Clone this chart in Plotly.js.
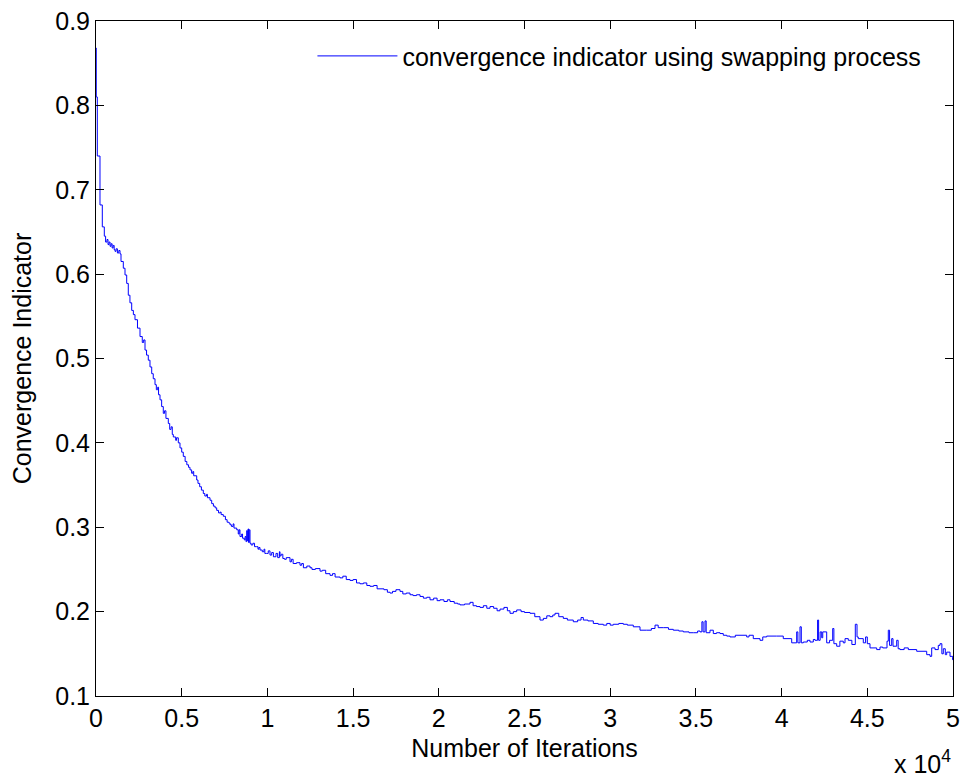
<!DOCTYPE html>
<html>
<head>
<meta charset="utf-8">
<script src="https://cdn.plot.ly/plotly-3.0.1.min.js"></script>
<style>html,body{margin:0;padding:0;background:#fff;}#chart{width:964px;height:780px;}</style>
</head>
<body>
<div id="chart"></div>
<script>
// Iteration numbers
const iterations = [
0,15,76,233,368,484,560,640,700,760,820,880,940,1000,1060,1110,1170,1250,1330,1400,
1459,1593,1692,1791,1884,1980,2083,2180,2275,2420,2567,2700,2780,2859,2950,3051,3150,3250,3340,3442,
3520,3600,3650,3734,3830,3926,4000,4080,4218,4300,4380,4450,4510,4650,4700,4802,4900,5000,5093,5200,
5300,5400,5484,5580,5650,5700,5875,5950,6050,6150,6260,6350,6450,6500,6651,6750,6850,6950,7042,7150,
7250,7300,7427,7550,7650,7750,7818,7900,8000,8050,8209,8300,8350,8400,8500,8550,8650,8700,8750,8792,
8830,8870,8900,8940,8985,9050,9150,9250,9376,9450,9500,9568,9700,9800,9850,9959,10050,10152,10250,10350,
10500,10600,10700,10735,10800,10900,11000,11100,11319,11400,11500,11700,11902,12000,12100,12300,12485,12600,12800,13069,
13200,13400,13652,13800,13950,14236,14400,14600,14819,15000,15200,15403,15600,15800,15986,16200,16400,16569,16800,17000,
17153,17300,17500,17736,17900,18100,18320,18500,18700,18903,19100,19300,19487,19700,19900,20070,20300,20500,20653,20900,
21100,21237,21500,21820,22000,22200,22404,22600,22800,22987,23200,23400,23571,23800,24000,24154,24350,24545,24800,25000,
25321,25600,25904,26100,26300,26488,26650,26779,27000,27264,27500,27847,28100,28300,28431,28700,29014,29300,29598,29800,
30000,30181,30500,30764,31000,31348,31739,32129,32400,32614,32800,33098,33400,33681,34000,34265,34600,34848,35100,35239,
35350,35420,35531,35600,35823,36015,36200,36406,36598,36800,36989,37300,37573,37963,38100,38348,38739,38900,39130,39714,
40098,40589,40880,40950,41073,41150,41266,41500,41657,41850,41948,42100,42160,42250,42339,42400,42532,42631,42800,42981,
43050,43214,43400,43599,43700,43891,44100,44300,44400,44474,44766,44900,45000,45157,45548,45741,45900,46150,46225,46300,
46423,46500,46715,46800,46908,47150,47392,47882,48466,48658,48757,48950,49142,49241,49350,49434,49550,49632,49825,49983,
50000
];
// Convergence indicator values
const indicator = [
0.868,0.81,0.74,0.682,0.656,0.645,0.638,0.641,0.635,0.638,0.633,0.636,0.631,0.634,0.629,0.627,0.630,0.625,0.628,0.624,
0.615,0.607,0.599,0.589,0.575,0.566,0.557,0.552,0.546,0.536,0.526,0.519,0.522,0.510,0.504,0.498,0.490,0.482,0.476,0.469,
0.463,0.466,0.457,0.451,0.443,0.435,0.438,0.429,0.423,0.416,0.419,0.410,0.407,0.403,0.406,0.400,0.394,0.389,0.384,0.378,
0.374,0.371,0.368,0.364,0.366,0.361,0.356,0.352,0.348,0.344,0.340,0.337,0.339,0.335,0.332,0.328,0.325,0.323,0.320,0.317,
0.318,0.315,0.313,0.309,0.306,0.305,0.303,0.301,0.304,0.299,0.297,0.292,0.297,0.289,0.292,0.287,0.285,0.289,0.283,0.296,
0.284,0.298,0.282,0.297,0.281,0.279,0.281,0.277,0.277,0.274,0.276,0.273,0.271,0.274,0.269,0.269,0.272,0.267,0.270,0.265,
0.269,0.264,0.271,0.266,0.268,0.263,0.262,0.264,0.259,0.262,0.257,0.258,0.255,0.257,0.252,0.254,0.252,0.250,0.251,0.248,
0.249,0.245,0.243,0.245,0.241,0.240,0.242,0.238,0.237,0.238,0.234,0.233,0.234,0.231,0.230,0.231,0.227,0.227,0.226,0.223,
0.222,0.224,0.226,0.224,0.221,0.222,0.220,0.219,0.220,0.218,0.216,0.217,0.214,0.216,0.213,0.214,0.212,0.214,0.212,0.210,
0.209,0.208,0.209,0.211,0.207,0.206,0.205,0.207,0.204,0.206,0.204,0.201,0.203,0.205,0.201,0.198,0.200,0.202,0.200,0.199,
0.198,0.194,0.190,0.192,0.195,0.194,0.196,0.198,0.194,0.192,0.190,0.188,0.190,0.193,0.190,0.189,0.186,0.185,0.184,0.186,
0.184,0.185,0.186,0.185,0.184,0.182,0.178,0.178,0.180,0.184,0.181,0.181,0.179,0.178,0.177,0.176,0.175,0.175,0.177,0.176,
0.188,0.176,0.189,0.175,0.178,0.174,0.175,0.174,0.172,0.171,0.170,0.172,0.172,0.170,0.172,0.168,0.166,0.170,0.171,0.171,
0.168,0.163,0.176,0.163,0.182,0.163,0.164,0.166,0.164,0.167,0.166,0.190,0.166,0.176,0.169,0.176,0.176,0.163,0.166,0.180,
0.162,0.159,0.165,0.163,0.168,0.166,0.161,0.185,0.170,0.168,0.163,0.170,0.162,0.157,0.155,0.158,0.157,0.165,0.178,0.160,
0.168,0.159,0.166,0.156,0.155,0.157,0.155,0.153,0.149,0.147,0.157,0.155,0.160,0.162,0.150,0.156,0.149,0.152,0.147,0.143,
0.145
];
const xTickVals = [0,5000,10000,15000,20000,25000,30000,35000,40000,45000,50000];
const xTickText = ['0','0.5','1','1.5','2','2.5','3','3.5','4','4.5','5'];
const yTickVals = [0.1,0.2,0.3,0.4,0.5,0.6,0.7,0.8,0.9];
const seriesName = 'convergence indicator using swapping process';

const font = {family: '"Liberation Sans", Arial, sans-serif', size: 25, color: '#000'};

const trace = {
  x: iterations, y: indicator, type: 'scatter', mode: 'lines',
  name: seriesName,
  line: {color: '#0000ff', width: 1, shape: 'hv'}
};

const axisCommon = {
  showline: true, linecolor: '#000', linewidth: 1, mirror: 'ticks',
  ticks: 'inside', ticklen: 8, tickwidth: 1, tickcolor: '#000',
  showgrid: false, zeroline: false, tickfont: font
};

const layout = {
  width: 964, height: 780,
  margin: {l: 96, r: 11, t: 21, b: 84},
  paper_bgcolor: '#fff', plot_bgcolor: '#fff',
  font: font,
  showlegend: true,
  legend: {x: 0.969, y: 0.982, xanchor: 'right', yanchor: 'top', bgcolor: 'rgba(0,0,0,0)', borderwidth: 0, font: font, itemwidth: 80},
  xaxis: Object.assign({}, axisCommon, {
    range: [0, 50000], tickvals: xTickVals, ticktext: xTickText,
    title: {text: 'Number of Iterations', font: font, standoff: 8}
  }),
  yaxis: Object.assign({}, axisCommon, {
    range: [0.1, 0.9], tickvals: yTickVals, tickformat: '.1f',
    title: {text: 'Convergence Indicator', font: font, standoff: 16}
  }),
  annotations: [{
    xref: 'paper', yref: 'paper', x: 1, y: -0.098, xanchor: 'right', yanchor: 'middle',
    text: 'x 10<sup>4</sup>', showarrow: false, font: font
  }]
};

Plotly.newPlot('chart', [trace], layout, {staticPlot: true, displayModeBar: false});
</script>
</body>
</html>
